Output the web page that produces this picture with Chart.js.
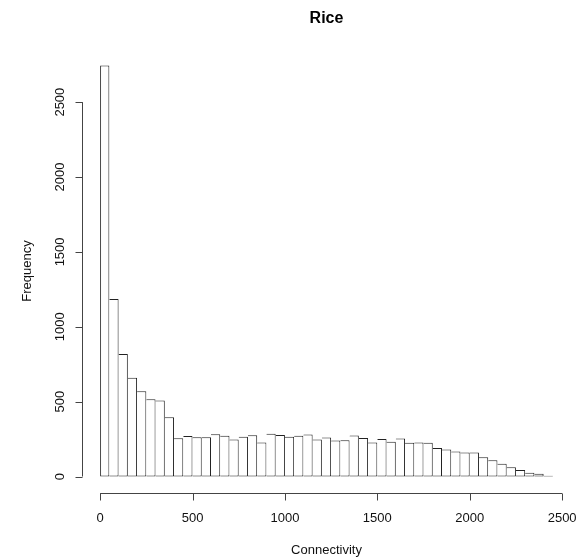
<!DOCTYPE html>
<html>
<head>
<meta charset="utf-8">
<title>Rice</title>
<script src="https://cdn.jsdelivr.net/npm/chart.js@4.4.1/dist/chart.umd.min.js"></script>
<style>
    body { margin: 0; background: #fff; }
    #histCanvas { display: block; }
</style>
</head>
<body>
<canvas id="histCanvas" width="585" height="560"></canvas>
<script>
// Bin left edges (width 50) and the counts
const binStarts = [0, 50, 100, 150, 200, 250, 300, 350, 400, 450,
    500, 550, 600, 650, 700, 750, 800, 850, 900, 950,
    1000, 1050, 1100, 1150, 1200, 1250, 1300, 1350, 1400, 1450,
    1500, 1550, 1600, 1650, 1700, 1750, 1800, 1850, 1900, 1950,
    2000, 2050, 2100, 2150, 2200, 2250, 2300, 2350, 2400];
const binWidth = 50;
const frequencies = [2745, 1185, 818, 660, 570, 517, 508, 396, 256, 271,
    263, 263, 283, 273, 247, 265, 275, 227, 285, 277,
    265, 273, 280, 247, 260, 241, 243, 274, 258, 228,
    250, 232, 254, 225, 228, 225, 191, 181, 168, 160,
    160, 129, 109, 86, 62, 44, 26, 19, 6];
const xTicks = [0, 500, 1000, 1500, 2000, 2500];
const yTicks = [0, 500, 1000, 1500, 2000, 2500];
const chartTitle = 'Rice';
const xLabel = 'Connectivity';
const yLabel = 'Frequency';

document.addEventListener('DOMContentLoaded', function() {
    const ctx = document.getElementById('histCanvas').getContext('2d');
    const font = '"Liberation Sans", Arial, sans-serif';
    const axisColor = '#444';

    // R style axes: lines only over the tick range, ticks pointing out
    const rAxes = {
        id: 'rAxes',
        afterDraw(chart) {
            const c = chart.ctx;
            const area = chart.chartArea;
            const xs = chart.scales.x;
            const ys = chart.scales.y;
            c.save();
            c.strokeStyle = axisColor;
            c.lineWidth = 1;
            c.fillStyle = '#111';
            c.font = '13px ' + font;

            // x axis
            const yAxis = Math.round(area.bottom) + 0.5;
            c.beginPath();
            c.moveTo(xs.getPixelForValue(xTicks[0]), yAxis);
            c.lineTo(xs.getPixelForValue(xTicks[xTicks.length - 1]), yAxis);
            xTicks.forEach(v => {
                const px = Math.round(xs.getPixelForValue(v)) + 0.5;
                c.moveTo(px, yAxis);
                c.lineTo(px, yAxis + 7);
            });
            c.stroke();
            c.textAlign = 'center';
            c.textBaseline = 'middle';
            xTicks.forEach(v => {
                c.fillText(String(v), xs.getPixelForValue(v), yAxis + 25);
            });
            c.fillText(xLabel, (area.left + area.right) / 2, 550);

            // y axis
            const xAxis = Math.round(area.left) + 0.5;
            c.beginPath();
            c.moveTo(xAxis, ys.getPixelForValue(yTicks[0]));
            c.lineTo(xAxis, ys.getPixelForValue(yTicks[yTicks.length - 1]));
            yTicks.forEach(v => {
                const py = Math.round(ys.getPixelForValue(v)) + 0.5;
                c.moveTo(xAxis, py);
                c.lineTo(xAxis - 7, py);
            });
            c.stroke();
            yTicks.forEach(v => {
                c.save();
                c.translate(xAxis - 22, ys.getPixelForValue(v));
                c.rotate(-Math.PI / 2);
                c.fillText(String(v), 0, 0);
                c.restore();
            });
            c.save();
            c.translate(27, (area.top + area.bottom) / 2);
            c.rotate(-Math.PI / 2);
            c.fillText(yLabel, 0, 0);
            c.restore();

            c.restore();
        }
    };

    const histData = binStarts.map((start, i) => ({ x: start + binWidth / 2, y: frequencies[i] }));

    new Chart(ctx, {
        type: 'bar',
        data: {
            datasets: [{
                data: histData,
                backgroundColor: '#ffffff',
                borderColor: '#222',
                borderSkipped: false,
                borderWidth: c => ({ left: c.dataIndex === 0 ? 1 : 0, right: 1, top: 1, bottom: 1 }),
                barPercentage: 1,
                categoryPercentage: 1,
                inflateAmount: 0
            }]
        },
        options: {
            responsive: false,
            animation: false,
            devicePixelRatio: 1,
            layout: { padding: { left: 82, right: 14, top: 0, bottom: 67 } },
            scales: {
                x: { type: 'linear', min: -98, max: 2548, offset: false, display: false },
                y: { type: 'linear', min: -109.8, max: 2854.8, display: false }
            },
            plugins: {
                legend: { display: false },
                tooltip: { enabled: false },
                title: {
                    display: true,
                    fullSize: false,
                    text: chartTitle,
                    color: '#000',
                    font: { family: font, size: 16, weight: 'bold', lineHeight: 1.2 },
                    padding: { top: 8.5, bottom: 21.3 }
                }
            }
        },
        plugins: [rAxes]
    });
});
</script>
</body>
</html>
